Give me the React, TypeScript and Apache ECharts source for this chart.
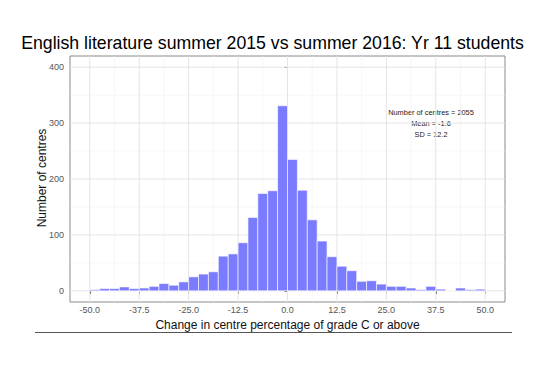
import React, { useEffect, useRef } from "react";
import * as echarts from "echarts";

// Histogram bins (start of each 2.5-wide bin) and centre counts
const BIN_STARTS = [
  -50, -47.5, -45, -42.5, -40, -37.5, -35, -32.5, -30, -27.5,
  -25, -22.5, -20, -17.5, -15, -12.5, -10, -7.5, -5, -2.5,
  0, 2.5, 5, 7.5, 10, 12.5, 15, 17.5, 20, 22.5,
  25, 27.5, 30, 32.5, 35, 37.5, 40, 42.5, 45, 47.5,
];
const BIN_WIDTH = 2.5;
const COUNTS = [
  2, 4, 4, 7, 4, 5, 8, 13, 10, 16,
  25, 30, 34, 62, 66, 86, 131, 174, 179, 331,
  235, 180, 127, 89, 61, 44, 36, 17, 18, 12,
  8, 8, 5, 2, 8, 3, 0, 5, 2, 3,
];

const X_TICKS = [-50, -37.5, -25, -12.5, 0, 12.5, 25, 37.5, 50];
const X_MINOR = [-43.75, -31.25, -18.75, -6.25, 6.25, 18.75, 31.25, 43.75];
const Y_TICKS = [0, 100, 200, 300, 400];
const Y_MINOR = [50, 150, 250, 350];
const X_RANGE = [-55, 55];
const Y_RANGE = [-20, 420];

const TITLE = "English literature summer 2015 vs summer 2016: Yr 11 students";
const X_NAME = "Change in centre percentage of grade C or above";
const Y_NAME = "Number of centres";
const ANNOTATION = ["Number of centres = 2055", "Mean = -1.6", "SD = 12.2"];

const FONT = "'Liberation Sans', Arial, Helvetica, sans-serif";

function vLine(color: string, width: number) {
  return (params: any, api: any) => {
    const v = api.value(0);
    const p1 = api.coord([v, Y_RANGE[0]]);
    const p2 = api.coord([v, Y_RANGE[1]]);
    return {
      type: "line",
      shape: { x1: p1[0], y1: p1[1], x2: p2[0], y2: p2[1] },
      style: { stroke: color, lineWidth: width },
      silent: true,
    };
  };
}
function hLine(color: string, width: number) {
  return (params: any, api: any) => {
    const v = api.value(1);
    const p1 = api.coord([X_RANGE[0], v]);
    const p2 = api.coord([X_RANGE[1], v]);
    return {
      type: "line",
      shape: { x1: p1[0], y1: p1[1], x2: p2[0], y2: p2[1] },
      style: { stroke: color, lineWidth: width },
      silent: true,
    };
  };
}

export default function App() {
  const ref = useRef<HTMLDivElement>(null);
  useEffect(() => {
    if (!ref.current) return;
    const chart = echarts.init(ref.current, null, { renderer: "svg" });
    const majorColor = "#e4e4e4";
    const minorColor = "#f1f1f1";
    const option: any = {
      animation: false,
      backgroundColor: "#ffffff",
      textStyle: { fontFamily: FONT },
      grid: {
        left: 70,
        right: 40,
        top: 56,
        bottom: 66,
        show: true,
        borderColor: "#8a8a8a",
        borderWidth: 1,
        backgroundColor: "#ffffff",
        containLabel: false,
      },
      xAxis: {
        type: "value",
        min: X_RANGE[0],
        max: X_RANGE[1],
        axisLine: { show: false },
        splitLine: { show: false },
        axisTick: {
          show: true,
          customValues: X_TICKS,
          length: 3,
          lineStyle: { color: "#444", width: 1 },
        },
        axisLabel: {
          customValues: X_TICKS,
          formatter: (v: number) => v.toFixed(1),
          color: "#555",
          fontSize: 9,
          margin: 3,
          fontFamily: FONT,
        },
        name: X_NAME,
        nameLocation: "middle",
        nameGap: 16,
        nameTextStyle: { color: "#111", fontSize: 12, fontFamily: FONT },
      },
      yAxis: {
        type: "value",
        min: Y_RANGE[0],
        max: Y_RANGE[1],
        axisLine: { show: false },
        splitLine: { show: false },
        axisTick: {
          show: true,
          customValues: Y_TICKS,
          length: 3,
          lineStyle: { color: "#444", width: 1 },
        },
        axisLabel: {
          customValues: Y_TICKS,
          color: "#555",
          fontSize: 9,
          margin: 6,
          fontFamily: FONT,
        },
      },
      series: [
        {
          type: "custom",
          renderItem: vLine(minorColor, 0.6),
          data: X_MINOR.map((v) => [v, 0]),
          encode: { x: 0, y: 1 },
          silent: true,
          z: 1,
        },
        {
          type: "custom",
          renderItem: hLine(minorColor, 0.6),
          data: Y_MINOR.map((v) => [0, v]),
          encode: { x: 0, y: 1 },
          silent: true,
          z: 1,
        },
        {
          type: "custom",
          renderItem: vLine(majorColor, 1),
          data: X_TICKS.map((v) => [v, 0]),
          encode: { x: 0, y: 1 },
          silent: true,
          z: 2,
        },
        {
          type: "custom",
          renderItem: hLine(majorColor, 1),
          data: Y_TICKS.map((v) => [0, v]),
          encode: { x: 0, y: 1 },
          silent: true,
          z: 2,
        },
        {
          type: "custom",
          z: 5,
          renderItem: (params: any, api: any) => {
            const s = api.value(0);
            const e = api.value(1);
            const c = api.value(2);
            const p0 = api.coord([s, c]);
            const p1 = api.coord([e, 0]);
            return {
              type: "rect",
              shape: { x: p0[0], y: p0[1], width: p1[0] - p0[0], height: p1[1] - p0[1] },
              style: { fill: "#7b7bff", stroke: "#ffffff", lineWidth: 0.6 },
            };
          },
          data: BIN_STARTS.map((s, i) => [s, s + BIN_WIDTH, COUNTS[i]]),
          encode: { x: [0, 1], y: 2 },
        },
      ],
      graphic: [
        {
          type: "text",
          x: 272.5,
          y: 43,
          style: {
            text: TITLE,
            fill: "#000",
            font: `17.7px ${FONT}`,
            textAlign: "center",
            textVerticalAlign: "middle",
          },
        },
        {
          type: "text",
          x: 42,
          y: 178,
          rotation: Math.PI / 2,
          style: {
            text: Y_NAME,
            fill: "#111",
            font: `12px ${FONT}`,
            textAlign: "center",
            textVerticalAlign: "middle",
          },
        },
        ...ANNOTATION.map((t, i) => ({
          type: "text",
          x: 431,
          y: 112.5 + i * 11,
          style: {
            text: t,
            fill: "#222",
            font: `7.4px ${FONT}`,
            textAlign: "center",
            textVerticalAlign: "middle",
          },
        })),
        {
          type: "line",
          shape: { x1: 35, y1: 332.5, x2: 512, y2: 332.5 },
          style: { stroke: "#555", lineWidth: 1 },
        },
      ],
    };
    chart.setOption(option);
    return () => chart.dispose();
  }, []);
  return (
    <div
      ref={ref}
      style={{ position: "fixed", left: 0, top: 0, width: 545, height: 368, background: "#fff" }}
    />
  );
}
